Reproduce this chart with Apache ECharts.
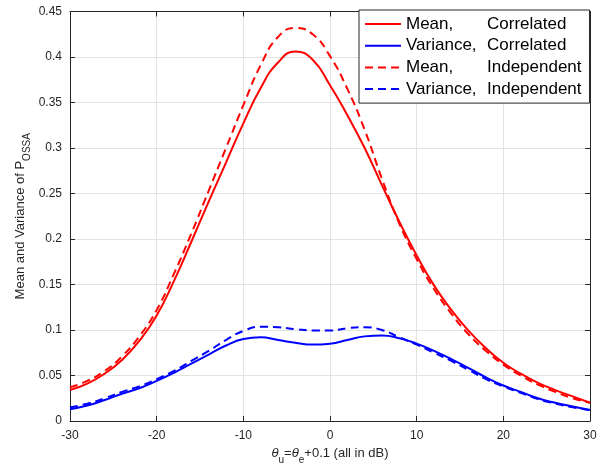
<!DOCTYPE html>
<html>
<head>
<meta charset="utf-8">
<script src="https://cdn.jsdelivr.net/npm/echarts@6/dist/echarts.min.js"></script>
<style>
html,body{margin:0;padding:0;background:#fff;}
#main{width:610px;height:463px;}
</style>
</head>
<body>
<div id="main"></div>
<script>
// x values (dB)
var thetaDb = [-30,-28,-26,-24,-22,-20,-18,-16,-14,-12,-10,-8,-6,-4,-2,0,2,4,6,8,10,12,14,16,18,20,22,24,26,28,30];
// Mean, Correlated
var meanCorr = [0.034,0.041,0.052,0.067,0.088,0.116,0.154,0.197,0.241,0.284,0.327,0.366,0.394,0.406,0.397,0.369,0.336,0.300,0.259,0.219,0.182,0.149,0.122,0.099,0.080,0.064,0.052,0.042,0.034,0.027,0.020];
// Variance, Correlated
var varCorr = [0.013,0.017,0.023,0.030,0.036,0.044,0.053,0.063,0.073,0.083,0.090,0.092,0.089,0.086,0.084,0.085,0.089,0.093,0.094,0.091,0.085,0.077,0.068,0.058,0.048,0.039,0.032,0.025,0.020,0.016,0.012];
// Mean, Independent
var meanInd = [0.037,0.044,0.055,0.071,0.093,0.122,0.162,0.206,0.253,0.300,0.347,0.391,0.422,0.432,0.425,0.401,0.365,0.320,0.266,0.217,0.178,0.145,0.118,0.095,0.077,0.062,0.050,0.040,0.032,0.025,0.020];
// Variance, Independent
var varInd = [0.015,0.019,0.025,0.032,0.038,0.046,0.055,0.066,0.077,0.089,0.099,0.1035,0.103,0.101,0.0995,0.0995,0.102,0.103,0.100,0.092,0.084,0.075,0.066,0.056,0.046,0.038,0.031,0.024,0.019,0.015,0.012];
var seriesNames = ['Mean, Correlated','Variance, Correlated','Mean, Independent','Variance, Independent'];

var FONT = "'Liberation Sans', Arial, Helvetica, sans-serif";
var AX = '#262626';

function pairs(ys){
    var out=[];
    for(var a=0;a<thetaDb.length;a++)out.push([thetaDb[a],ys[a]]);
    return out;
}
function mkSeries(name,ys,color,dash){
    return {
        name:name,
        type:'line',
        smooth:0.5,
        symbol:'none',
        showSymbol:false,
        animation:false,
        xAxisIndex:0,
        yAxisIndex:0,
        data:pairs(ys),
        lineStyle:{color:color,width:2,type:dash?[8,5]:'solid'},
        itemStyle:{color:color}
    };
}
function boxAxis(extra){
    var o = {
        axisLine:{show:true,onZero:false,lineStyle:{color:AX,width:1}},
        axisTick:{show:true,inside:true,length:5,lineStyle:{color:AX}},
        splitLine:{show:false},
        axisLabel:{show:false}
    };
    for(var k in extra)o[k]=extra[k];
    return o;
}

var legendData=[];
for(var a=0;a<seriesNames.length;a++){
    legendData.push({name:seriesNames[a],itemStyle:{color:'rgba(0,0,0,0)',borderWidth:0}});
}

var chart = echarts.init(document.getElementById('main'));
var option = {
    backgroundColor:'#fff',
    animation:false,
    grid:{left:70,right:20,top:11.5,bottom:42,outerBoundsMode:'none',containLabel:false},
    legend:{
        orient:'vertical',
        left:359,
        top:10,
        padding:[5.5,8,5.5,5],
        itemWidth:36,
        itemHeight:14,
        itemGap:4.7,
        backgroundColor:'#fff',
        borderColor:AX,
        borderWidth:1,
        borderRadius:0,
        data:legendData,
        formatter:function(name){
            var p=name.split(', ');
            return '{a|'+p[0]+',}{b|'+p[1]+'}';
        },
        textStyle:{
            fontFamily:FONT,fontSize:17,color:'#000',
            rich:{
                a:{fontFamily:FONT,fontSize:17,color:'#000',width:81},
                b:{fontFamily:FONT,fontSize:17,color:'#000'}
            }
        }
    },
    xAxis:[
        boxAxis({
            type:'value',min:-30,max:30,interval:10,position:'bottom',
            axisLabel:{show:true,color:AX,fontFamily:FONT,fontSize:12,margin:9},
            splitLine:{show:true,lineStyle:{color:'#e3e3e3',width:1}},
            name:'{t|θ}{s|u}{n|=}{t|θ}{s|e}{n|+0.1 (all in dB)}',
            nameLocation:'middle',
            nameGap:18,
            nameTextStyle:{
                fontFamily:FONT,fontSize:13,color:AX,
                rich:{
                    t:{fontFamily:FONT,fontSize:13,color:AX,fontStyle:'italic',lineHeight:24},
                    n:{fontFamily:FONT,fontSize:13,color:AX,lineHeight:24},
                    s:{fontFamily:FONT,fontSize:10,color:AX,lineHeight:24,verticalAlign:'bottom'}
                }
            }
        }),
        boxAxis({type:'value',min:-30,max:30,interval:10,position:'top'})
    ],
    yAxis:[
        boxAxis({
            type:'value',min:0,max:0.45,interval:0.05,position:'left',
            axisLabel:{show:true,color:AX,fontFamily:FONT,fontSize:12,margin:8,
                formatter:function(v){return String(+v.toFixed(2));}},
            splitLine:{show:true,lineStyle:{color:'#e3e3e3',width:1}},
            name:'{n|Mean and Variance of P}{s|OSSA}',
            nameLocation:'middle',
            nameGap:38,
            nameMoveOverlap:false,
            nameTextStyle:{
                fontFamily:FONT,fontSize:13,color:AX,
                rich:{
                    n:{fontFamily:FONT,fontSize:13,color:AX,lineHeight:24},
                    s:{fontFamily:FONT,fontSize:10,color:AX,lineHeight:24,verticalAlign:'bottom'}
                }
            }
        }),
        boxAxis({type:'value',min:0,max:0.45,interval:0.05,position:'right'})
    ],
    series:[
        mkSeries(seriesNames[0],meanCorr,'#ff0000',false),
        mkSeries(seriesNames[1],varCorr,'#0000ff',false),
        mkSeries(seriesNames[2],meanInd,'#ff0000',true),
        mkSeries(seriesNames[3],varInd,'#0000ff',true)
    ]
};
chart.setOption(option);
</script>
</body>
</html>
